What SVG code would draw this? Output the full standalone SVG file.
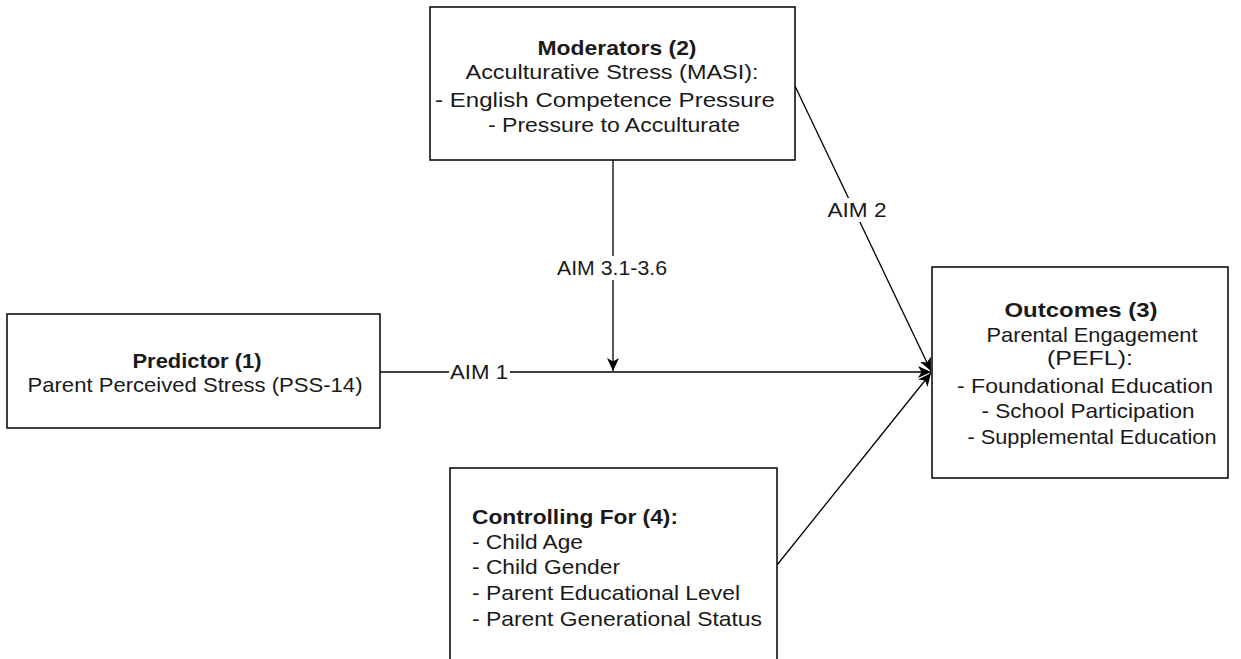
<svg xmlns="http://www.w3.org/2000/svg" width="1241" height="659" viewBox="0 0 1241 659">
<style>
.box{fill:#fff;stroke:#000;stroke-width:1.5}
.t{font-family:"Liberation Sans",Arial,sans-serif;font-size:21px;fill:#1a1a1a}
.c{text-anchor:middle}
.b{font-weight:bold}
.e{stroke:#000;stroke-width:1.3;fill:none}
.lbl{font-family:"Liberation Sans",Arial,sans-serif;font-size:20px;fill:#1a1a1a;text-anchor:middle}
</style>
<defs>
<marker id="arr" markerUnits="userSpaceOnUse" markerWidth="14" markerHeight="14" refX="13" refY="6" orient="auto" viewBox="0 0 14 12">
<path d="M0,0 L13,6 L0,12 L3.5,6 Z" fill="#000"/>
</marker>
</defs>
<rect width="1241" height="659" fill="#fff"/>
<g id="connectors">
<line class="e" x1="380" y1="372" x2="931" y2="372" marker-end="url(#arr)"/>
<line class="e" x1="613" y1="160" x2="613" y2="371" marker-end="url(#arr)"/>
<line class="e" x1="795" y1="86" x2="931" y2="371" marker-end="url(#arr)"/>
<line class="e" x1="777" y1="565" x2="931" y2="373" marker-end="url(#arr)"/>
<rect x="449" y="360" width="61" height="24" fill="#fff"/>
<text class="lbl" x="479" y="379" textLength="58" lengthAdjust="spacingAndGlyphs">AIM 1</text>
<rect x="555" y="256" width="114" height="24" fill="#fff"/>
<text class="lbl" x="612" y="275" textLength="110" lengthAdjust="spacingAndGlyphs">AIM 3.1-3.6</text>
<rect x="826" y="198" width="63" height="24" fill="#fff"/>
<text class="lbl" x="857" y="217" textLength="59" lengthAdjust="spacingAndGlyphs">AIM 2</text>
</g>
<g id="moderators">
<rect class="box" x="430" y="7" width="365" height="153"/>
<text class="t c b" x="617" y="55" textLength="159" lengthAdjust="spacingAndGlyphs">Moderators (2)</text>
<text class="t c" x="612" y="79" textLength="293" lengthAdjust="spacingAndGlyphs">Acculturative Stress (MASI):</text>
<text class="t c" x="605" y="107" textLength="340" lengthAdjust="spacingAndGlyphs">- English Competence Pressure</text>
<text class="t c" x="614" y="132" textLength="252" lengthAdjust="spacingAndGlyphs">- Pressure to Acculturate</text>
</g>
<g id="predictor">
<rect class="box" x="7" y="314" width="373" height="114"/>
<text class="t c b" x="197" y="368" textLength="129" lengthAdjust="spacingAndGlyphs">Predictor (1)</text>
<text class="t c" x="195" y="392" textLength="335" lengthAdjust="spacingAndGlyphs">Parent Perceived Stress (PSS-14)</text>
</g>
<g id="outcomes">
<rect class="box" x="932" y="267" width="296" height="211"/>
<text class="t c b" x="1081" y="317" textLength="153" lengthAdjust="spacingAndGlyphs">Outcomes (3)</text>
<text class="t c" x="1092" y="342" textLength="211" lengthAdjust="spacingAndGlyphs">Parental Engagement</text>
<text class="t c" x="1090" y="365" textLength="86" lengthAdjust="spacingAndGlyphs">(PEFL):</text>
<text class="t c" x="1085" y="393" textLength="256" lengthAdjust="spacingAndGlyphs">- Foundational Education</text>
<text class="t c" x="1088" y="418" textLength="213" lengthAdjust="spacingAndGlyphs">- School Participation</text>
<text class="t c" x="1092" y="444" textLength="249" lengthAdjust="spacingAndGlyphs">- Supplemental Education</text>
</g>
<g id="controlling">
<rect class="box" x="450" y="468" width="327" height="200"/>
<text class="t b" x="472" y="524" textLength="206" lengthAdjust="spacingAndGlyphs">Controlling For (4):</text>
<text class="t" x="472" y="549" textLength="111" lengthAdjust="spacingAndGlyphs">- Child Age</text>
<text class="t" x="472" y="574" textLength="148" lengthAdjust="spacingAndGlyphs">- Child Gender</text>
<text class="t" x="472" y="600" textLength="268" lengthAdjust="spacingAndGlyphs">- Parent Educational Level</text>
<text class="t" x="472" y="626" textLength="290" lengthAdjust="spacingAndGlyphs">- Parent Generational Status</text>
</g>
</svg>
